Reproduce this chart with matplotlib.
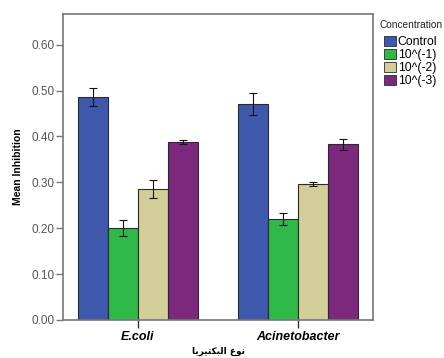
import numpy as np
import matplotlib
matplotlib.use("Agg")
import matplotlib.pyplot as plt

# values
bacteria = ["E.coli", "Acinetobacter"]
concentrations = ["Control", "10^(-1)", "10^(-2)", "10^(-3)"]
means = {
    "Control": [0.486, 0.471],
    "10^(-1)": [0.200, 0.220],
    "10^(-2)": [0.286, 0.296],
    "10^(-3)": [0.388, 0.383],
}
errors = {
    "Control": [0.019, 0.024],
    "10^(-1)": [0.017, 0.013],
    "10^(-2)": [0.019, 0.004],
    "10^(-3)": [0.005, 0.012],
}
colors = ["#3E58AC", "#2EB848", "#D3CE97", "#7C287D"]
yticks = [0.0, 0.1, 0.2, 0.3, 0.4, 0.5, 0.6]

# Arabic x label "نوع البكتيريا" in presentation forms, visual order
xlabel_ar = "\uFE8E\uFEF3\uFEAE\uFEF4\uFE98\uFEDC\uFE92\uFEDF\uFE8D \uFEC9\uFEEE\uFEE7"

plt.rcParams['font.family'] = ['Liberation Sans', 'DejaVu Sans']

fig = plt.figure(figsize=(4.44, 3.58), dpi=100)
ax = fig.add_axes([63 / 444, 38 / 358, 310 / 444, 306 / 358])

x = np.arange(len(bacteria))
width = 0.1875
for i, c in enumerate(concentrations):
    pos = x + (i - 1.5) * width
    ax.bar(pos, means[c], width, color=colors[i], edgecolor="#2a2a2a",
           linewidth=0.8, label=c, zorder=2)
    ax.errorbar(pos, means[c], yerr=errors[c], fmt="none", ecolor="#111111",
                elinewidth=0.8, capsize=2.6, capthick=0.8, zorder=3)

ax.set_xlim(-0.467, 1.47)
ax.set_ylim(0, 0.667)
ax.set_yticks(yticks)
ax.set_yticklabels(["%.2f" % v for v in yticks], color="#555555", fontsize=8.5)
ax.set_xticks(x)
ax.set_xticklabels(bacteria, fontsize=9, fontweight="bold", style="italic")
ax.tick_params(axis="y", length=5, width=1, color="#777777", pad=1)
ax.tick_params(axis="x", length=6, width=1, color="#333333", pad=2)

for s in ax.spines.values():
    s.set_color("#777777")
    s.set_linewidth(1.2)

ax.set_ylabel("Mean Inhibition", fontsize=7.5, fontweight="bold", labelpad=6)
ax.set_xlabel(xlabel_ar, fontsize=6.5, fontweight="bold", family=["DejaVu Sans"], labelpad=3)

fig.text(379 / 444, 1 - 25 / 358, "Concentration", fontsize=7.3,
         ha="left", va="center", color="#222222")
leg = fig.legend(loc="upper left", bbox_to_anchor=(383 / 444, 1 - 35 / 358),
                 frameon=False, fontsize=8.8, handlelength=1.0,
                 handleheight=0.8, handletextpad=0.1, labelspacing=0.08,
                 borderpad=0.1, borderaxespad=0)
for p in leg.get_patches():
    p.set_edgecolor("#2a2a2a")
    p.set_linewidth(0.6)

fig.savefig("out.png", dpi=100)
